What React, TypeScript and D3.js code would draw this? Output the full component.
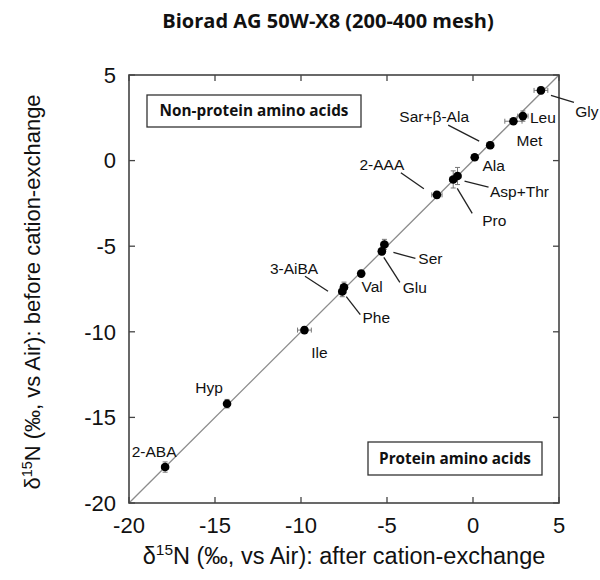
import React, { useEffect, useRef } from 'react';
import * as d3 from 'd3';

// amino acid d15N, after (x) vs before (y) cation exchange
const names = ['Gly', 'Leu', 'Met', 'Sar+β-Ala', 'Ala', 'Asp+Thr', 'Pro', '2-AAA', 'Ser', 'Glu', 'Val', '3-AiBA', 'Phe', 'Ile', 'Hyp', '2-ABA'];
const afterVals = [3.95, 2.9, 2.35, 1.0, 0.1, -0.9, -1.15, -2.1, -5.15, -5.3, -6.5, -7.5, -7.6, -9.8, -14.3, -17.9];
const beforeVals = [4.1, 2.6, 2.3, 0.9, 0.2, -0.9, -1.1, -2.0, -4.9, -5.3, -6.6, -7.4, -7.65, -9.9, -14.2, -17.9];
const xErrs = [0.4, 0.3, 0.5, 0.2, 0.15, 0.2, 0.2, 0.3, 0.2, 0.2, 0.1, 0.2, 0.2, 0.4, 0.15, 0.2];
const yErrs = [0.2, 0.3, 0.15, 0.2, 0.15, 0.5, 0.5, 0.2, 0.3, 0.2, 0.1, 0.3, 0.3, 0.2, 0.25, 0.3];

const tickVals = [-20, -15, -10, -5, 0, 5];

// label offsets (px) from the point, optional leader line
const labelDx = [46, 20, 16, -56, 19, 62, 41, -55, 46, 33, 11, -50, 34, 15, -18, -11];
const labelDy = [21, 1, 19, -29, 8, 16, 41, -30, 14, 36, 13, -19, 26, 22, -16, -15];
const leaders: (number[] | null)[] = [
  [10, 5, 33, 12], null, null, [-42, -20, -11, -4], null, [7, 5, 31, 11], [4, 9, 19, 34],
  [-36, -22, -13, -6], [9, 8, 31, 14], [2, 6, 18, 31], null, [-39, -11, -16, 4], [4, 5, 18, 23],
  null, null, null,
];

const App = () => {
  const svgRef = useRef<SVGSVGElement>(null);

  useEffect(() => {
    const svg = d3.select(svgRef.current);
    svg.selectAll('*').remove();

    const width = 600;
    const height = 580;
    const margin = { top: 75, right: 41, bottom: 77, left: 129 };
    const innerW = width - margin.left - margin.right;
    const innerH = height - margin.top - margin.bottom;
    const font = 'Liberation Sans, Arial, sans-serif';
    const boxFont = '"Open Sans", sans-serif';

    svg.attr('width', width).attr('height', height);

    const x = d3.scaleLinear().domain([-20, 5]).range([0, innerW]);
    const y = d3.scaleLinear().domain([-20, 5]).range([innerH, 0]);

    const g = svg.append('g').attr('transform', `translate(${margin.left},${margin.top})`);

    // 1:1 line
    g.append('line')
      .attr('x1', x(-20)).attr('y1', y(-20))
      .attr('x2', x(5)).attr('y2', y(5))
      .attr('stroke', '#8c8c8c').attr('stroke-width', 1.3);

    // frame
    g.append('rect')
      .attr('width', innerW).attr('height', innerH)
      .attr('fill', 'none').attr('stroke', '#444').attr('stroke-width', 1.6);

    // inward ticks on all four sides
    const tk = 6;
    tickVals.forEach(v => {
      g.append('line').attr('x1', x(v)).attr('x2', x(v)).attr('y1', innerH).attr('y2', innerH - tk).attr('stroke', '#444').attr('stroke-width', 1.3);
      g.append('line').attr('x1', x(v)).attr('x2', x(v)).attr('y1', 0).attr('y2', tk).attr('stroke', '#444').attr('stroke-width', 1.3);
      g.append('line').attr('y1', y(v)).attr('y2', y(v)).attr('x1', 0).attr('x2', tk).attr('stroke', '#444').attr('stroke-width', 1.3);
      g.append('line').attr('y1', y(v)).attr('y2', y(v)).attr('x1', innerW).attr('x2', innerW - tk).attr('stroke', '#444').attr('stroke-width', 1.3);
    });

    // tick labels
    g.selectAll('.xtl').data(tickVals).enter().append('text')
      .attr('x', d => x(d)).attr('y', innerH + 30)
      .attr('text-anchor', 'middle')
      .style('font-family', font).style('font-size', '22px').style('fill', '#111')
      .text(d => d);
    g.selectAll('.ytl').data(tickVals).enter().append('text')
      .attr('x', -13).attr('y', d => y(d)).attr('dy', '0.35em')
      .attr('text-anchor', 'end')
      .style('font-family', font).style('font-size', '22px').style('fill', '#111')
      .text(d => d);

    // error bars
    const cap = 2.5;
    names.forEach((n, i) => {
      const px = x(afterVals[i]);
      const py = y(beforeVals[i]);
      const x0 = x(afterVals[i] - xErrs[i]);
      const x1 = x(afterVals[i] + xErrs[i]);
      const y0 = y(beforeVals[i] - yErrs[i]);
      const y1 = y(beforeVals[i] + yErrs[i]);
      const eb = g.append('g').attr('stroke', '#777').attr('stroke-width', 1);
      eb.append('line').attr('x1', x0).attr('x2', x1).attr('y1', py).attr('y2', py);
      eb.append('line').attr('x1', x0).attr('x2', x0).attr('y1', py - cap).attr('y2', py + cap);
      eb.append('line').attr('x1', x1).attr('x2', x1).attr('y1', py - cap).attr('y2', py + cap);
      eb.append('line').attr('x1', px).attr('x2', px).attr('y1', y0).attr('y2', y1);
      eb.append('line').attr('y1', y0).attr('y2', y0).attr('x1', px - cap).attr('x2', px + cap);
      eb.append('line').attr('y1', y1).attr('y2', y1).attr('x1', px - cap).attr('x2', px + cap);
    });

    // points
    g.selectAll('.pt').data(names).enter().append('circle')
      .attr('cx', (d, i) => x(afterVals[i]))
      .attr('cy', (d, i) => y(beforeVals[i]))
      .attr('r', 4.3)
      .attr('fill', '#000');

    // labels + leader lines
    names.forEach((n, i) => {
      const px = x(afterVals[i]);
      const py = y(beforeVals[i]);
      const l = leaders[i];
      if (l) {
        g.append('line')
          .attr('x1', px + l[0]).attr('y1', py + l[1])
          .attr('x2', px + l[2]).attr('y2', py + l[3])
          .attr('stroke', '#222').attr('stroke-width', 1.3);
      }
      g.append('text')
        .attr('x', px + labelDx[i]).attr('y', py + labelDy[i]).attr('dy', '0.35em')
        .attr('text-anchor', 'middle')
        .style('font-family', font).style('font-size', '15.5px').style('fill', '#111')
        .text(n);
    });

    // category boxes
    const boxes = [
      { text: 'Non-protein amino acids', x: 18, y: 20, w: 214, h: 32 },
      { text: 'Protein amino acids', x: 239, y: 367, w: 174, h: 33 },
    ];
    boxes.forEach(b => {
      g.append('rect')
        .attr('x', b.x).attr('y', b.y).attr('width', b.w).attr('height', b.h)
        .attr('fill', '#fff').attr('stroke', '#333').attr('stroke-width', 1.3);
      g.append('text')
        .attr('x', b.x + b.w / 2).attr('y', b.y + b.h / 2).attr('dy', '0.35em')
        .attr('text-anchor', 'middle')
        .style('font-family', boxFont).style('font-weight', 'bold').style('font-size', '15.3px').style('fill', '#111')
        .text(b.text);
    });

    // title
    svg.append('text')
      .attr('x', 328).attr('y', 28)
      .attr('text-anchor', 'middle')
      .style('font-family', boxFont).style('font-weight', 'bold').style('font-size', '20px').style('fill', '#111')
      .text('Biorad AG 50W-X8 (200-400 mesh)');

    // axis labels
    const xl = svg.append('text')
      .attr('x', margin.left + innerW / 2).attr('y', 564)
      .attr('text-anchor', 'middle')
      .style('font-family', font).style('font-size', '23.5px').style('fill', '#111');
    xl.append('tspan').text('δ');
    xl.append('tspan').attr('dy', -9).style('font-size', '15.5px').text('15');
    xl.append('tspan').attr('dy', 9).text('N (‰, vs Air): after cation-exchange');

    const yl = svg.append('text')
      .attr('transform', `translate(40,${margin.top + innerH / 2 + 3}) rotate(-90)`)
      .attr('text-anchor', 'middle')
      .style('font-family', font).style('font-size', '22px').style('fill', '#111');
    yl.append('tspan').text('δ');
    yl.append('tspan').attr('dy', -8).style('font-size', '14.5px').text('15');
    yl.append('tspan').attr('dy', 8).text('N (‰, vs Air): before cation-exchange');
  }, []);

  return (
    <div style={{ position: 'absolute', left: 0, top: 0 }}>
      <svg ref={svgRef}></svg>
    </div>
  );
};

export default App;
